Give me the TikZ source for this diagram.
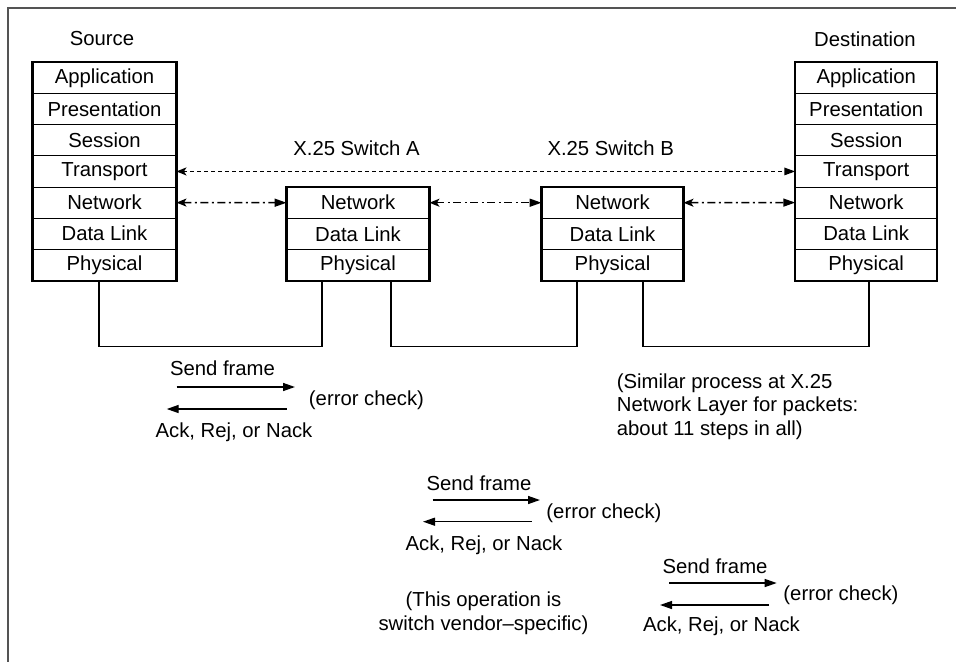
\documentclass[tikz,border=0pt]{standalone}
\usepackage{fontspec}
\setmainfont{Liberation Sans}
\usetikzlibrary{arrows.meta,positioning,calc}
\begin{document}
\begin{tikzpicture}[x=1pt,y=-1pt,
  every node/.style={font=\fontsize{20.3}{23.5}\selectfont},
  layer/.style={draw,line width=0.9pt,minimum width=#1,minimum height=31.14pt,inner sep=0pt,anchor=north},
  layer/.default=143pt,
  stackframe/.style={draw,line width=2.2pt},
  wire/.style={line width=1.4pt},
  peer/.style={line width=1.5pt,dash pattern=on 4pt off 3pt,
    {Stealth[length=10pt,width=8pt,inset=2.5pt]}-{Triangle[length=11pt,width=7.5pt]}},
  netpeer/.style={line width=1.5pt,dash pattern=on 8pt off 3.5pt on 2pt off 3.5pt,
    {Stealth[length=10pt,width=8pt,inset=2.5pt]}-{Triangle[length=12pt,width=8pt]}},
  msg/.style={line width=1.4pt,-{Triangle[length=12pt,width=8pt]}},
  lbl/.style={inner sep=0pt}
]
\useasboundingbox (0,0) rectangle (956,662);
% frame (top and left only)
\draw[line width=1.3pt,color=black!67] (956,8) -- (8,8) -- (8,662);

% Source stack
\foreach \t [count=\i] in {Application,Presentation,Session,Transport,Network,Data Link,Physical}
  \node[layer] (s\i) at (104.5,{62+31.14*(\i-1)}) {\t};
\draw[stackframe] (s1.north west) rectangle (s7.south east);
\node[lbl] (src) at (102,39) {Source};

% Destination stack
\foreach \t [count=\i] in {Application,Presentation,Session,Transport,Network,Data Link,Physical}
  \node[layer=141pt] (d\i) at (866.2,{62+31.14*(\i-1)}) {\t};
\draw[stackframe] (d1.north west) rectangle (d7.south east);
\node[lbl] (dst) at (865,39) {Destination};

% Switch A
\foreach \t [count=\i] in {Network,Data Link,Physical}
  \node[layer=142pt] (a\i) at (358,{186.7+31.14*(\i-1)}) {\t};
\draw[stackframe] (a1.north west) rectangle (a3.south east);
\node[lbl] (swa) at (356.5,148) {X.25 Switch A};

% Switch B
\foreach \t [count=\i] in {Network,Data Link,Physical}
  \node[layer=141pt] (b\i) at (612.5,{186.7+31.14*(\i-1)}) {\t};
\draw[stackframe] (b1.north west) rectangle (b3.south east);
\node[lbl] (swb) at (610.7,148) {X.25 Switch B};

% peer connections
\draw[peer] (s4.east) -- (d4.west);
\draw[netpeer] (s5.east) -- (a1.west);
\draw[netpeer] (a1.east) -- (b1.west);
\draw[netpeer] (b1.east) -- (d5.west);

% physical wires
\draw[wire] ([xshift=-5.5pt]s7.south) -- ++(0,65.5) -| ([xshift=-36pt]a3.south);
\draw[wire] ([xshift=33pt]a3.south) -- ++(0,65.5) -| ([xshift=-35.5pt]b3.south);
\draw[wire] ([xshift=30.5pt]b3.south) -- ++(0,65.5) -| ([xshift=2.7pt]d7.south);

% exchange 1
\node[lbl] (sf1) at (222.5,368) {Send frame};
\coordinate (f1a) at (176.7,387); \coordinate (f1b) at (295,387);
\coordinate (r1a) at (286.7,409); \coordinate (r1b) at (166.7,409);
\draw[msg] (f1a) -- (f1b);
\draw[msg] (r1a) -- (r1b);
\node[lbl] (ec1) at (366.5,400) {(error check)};
\node[lbl] (ak1) at (234,432) {Ack, Rej, or Nack};

% exchange 2
\node[lbl] (sf2) at (479,483) {Send frame};
\coordinate (f2a) at (432.7,500); \coordinate (f2b) at (540,500);
\coordinate (r2a) at (531.7,521.7); \coordinate (r2b) at (423,521.7);
\draw[msg] (f2a) -- (f2b);
\draw[msg] (r2a) -- (r2b);
\node[lbl] (ec2) at (604,513) {(error check)};
\node[lbl] (ak2) at (484,545) {Ack, Rej, or Nack};

% exchange 3
\node[lbl] (sf3) at (715,566.7) {Send frame};
\coordinate (f3a) at (669,583); \coordinate (f3b) at (776.7,583);
\coordinate (r3a) at (769,605); \coordinate (r3b) at (660,605);
\draw[msg] (f3a) -- (f3b);
\draw[msg] (r3a) -- (r3b);
\node[lbl] (ec3) at (841,595) {(error check)};
\node[lbl] (ak3) at (721.5,626.7) {Ack, Rej, or Nack};

% notes
\node[lbl,align=center] (vend) at (483.5,613.4) {(This operation is\\switch vendor--specific)};
\node[lbl,align=left,anchor=west] (sim) at (616.7,406.5) {(Similar process at X.25\\Network Layer for packets:\\about 11 steps in all)};
\end{tikzpicture}
\end{document}
